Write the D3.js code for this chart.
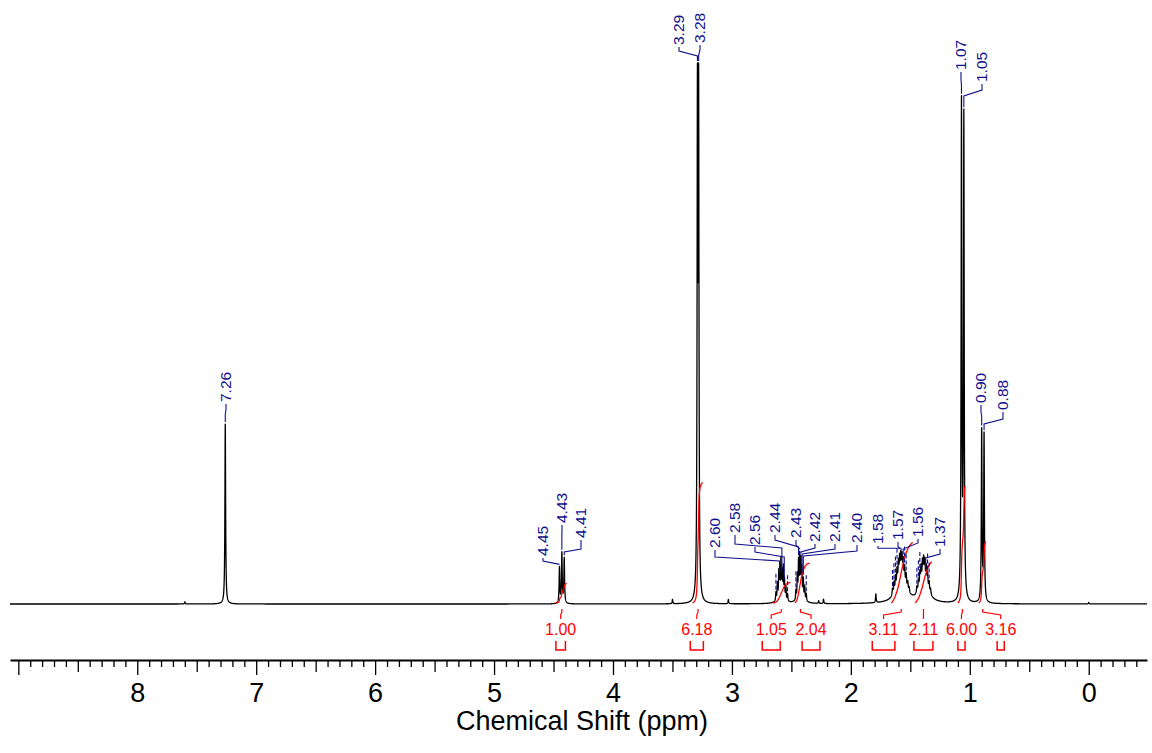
<!DOCTYPE html>
<html><head><meta charset="utf-8">
<script src="https://cdn.jsdelivr.net/npm/d3@7"></script>
<style>
body{margin:0;background:#fff}
svg{display:block}
text{font-family:Arial,"Liberation Sans",sans-serif}
</style>
</head><body>
<svg id="c" width="1152" height="753"></svg>
<script>
// ---- Peak list (ppm, relative intensity with 3.29 = 100, half width in ppm)
const peakPpm = [7.60, 7.26, 4.45, 4.43, 4.41, 3.50, 3.29, 3.28, 3.03,
  2.630, 2.618, 2.606, 2.598, 2.588, 2.578, 2.568, 2.558, 2.546, 2.532, 2.585,
  2.462, 2.450, 2.440, 2.430, 2.420, 2.412, 2.400, 2.388, 2.375, 2.420,
  2.27, 2.23, 1.79,
  1.575, 1.650, 1.638, 1.625, 1.612, 1.600, 1.590, 1.580, 1.570, 1.560, 1.548, 1.535, 1.522, 1.510,
  1.385, 1.445, 1.432, 1.420, 1.410, 1.398, 1.388, 1.378, 1.366, 1.355, 1.342, 1.330,
  1.07, 1.05, 0.90, 0.88, 0.00];
const peakAmp = [0.4, 33.2, 6.6, 9.2, 8.3, 0.8, 90, 90, 0.8,
  1.5, 3.0, 4.7, 3.8, 6.5, 4.2, 5.5, 3.4, 2.4, 1.3, 1.2,
  1.7, 4.3, 6.5, 7.2, 6.2, 4.7, 3.4, 2.4, 1.3, 1.2,
  0.5, 0.8, 1.6,
  4.0, 1.2, 2.0, 2.6, 3.2, 3.8, 4.0, 4.2, 4.0, 3.6, 3.0, 2.4, 1.6, 1.0,
  3.4, 1.2, 2.0, 2.8, 3.4, 3.8, 4.0, 3.8, 3.3, 2.6, 1.8, 1.0,
  91, 88.5, 31.5, 30.7, 0.3];
const peakHw = [0.003, 0.0035, 0.0035, 0.0035, 0.0035, 0.003, 0.0035, 0.0035, 0.003,
  0.003, 0.003, 0.003, 0.003, 0.003, 0.003, 0.003, 0.003, 0.003, 0.003, 0.03,
  0.003, 0.003, 0.003, 0.003, 0.003, 0.003, 0.003, 0.003, 0.003, 0.03,
  0.003, 0.003, 0.003,
  0.05, 0.004, 0.004, 0.004, 0.004, 0.004, 0.004, 0.004, 0.004, 0.004, 0.004, 0.004, 0.004, 0.004,
  0.045, 0.004, 0.004, 0.004, 0.004, 0.004, 0.004, 0.004, 0.004, 0.004, 0.004, 0.004,
  0.0035, 0.0035, 0.0035, 0.0035, 0.003];

// ---- Peak labels
const labelText = ["7.26","4.45","4.43","4.41","3.29","3.28","2.60","2.58","2.56","2.44","2.43","2.42","2.41","2.40","1.58","1.57","1.56","1.37","1.07","1.05","0.90","0.88"];
const labelPpm = labelText.map(Number);
// label layout (px): label x, text bottom, elbow y at label, elbow y at peak
const labelX  = [226, 543, 562, 581, 679, 700, 715, 735, 755, 775, 796, 815, 835, 857, 878, 898, 918, 940, 961, 982, 981, 1003];
const labelTB = [402, 556, 523, 538, 45, 43, 548, 533, 545, 533, 538, 542, 542, 543, 544, 540, 537, 547, 70, 82, 403, 410];
const labelE1 = [410, 561, 530, 549, 51, 50, 557, 544, 552, 540, 545, 548, 549, 551, 549, 547, 543, 554, 80, 90, 412, 419];
const labelE2 = [414, 565, 535, 552, 56, 55, 561, 548, 557, 547, 549, 552, 554, 556, 552, 551, 549, 558, 85, 96, 416, 424];
// unlabeled peak markers (dashed)
const markerPpm = [2.630, 2.532, 2.462, 2.375, 1.650, 1.638, 1.625, 1.612, 1.548, 1.535, 1.445, 1.432, 1.420, 1.355, 1.342];

// ---- Integrals
const integralValue = ["1.00","6.18","1.05","2.04","3.11","2.11","6.00","3.16"];
const bracketFrom = [4.48, 3.35, 2.745, 2.41, 1.82, 1.47, 1.10, 0.77];
const bracketTo   = [4.40, 3.24, 2.594, 2.26, 1.63, 1.31, 1.04, 0.71];
const curveFrom   = [4.48, 3.33, 2.66, 2.47, 1.66, 1.46, 1.10, 0.925];
const curveTo     = [4.39, 3.245, 2.51, 2.35, 1.48, 1.32, 1.04, 0.866];

// ---- Axis
const majorTicks = d3.range(0, 10);
const axisTitle = "Chemical Shift (ppm)";

const NAVY = "#10108c", RED = "#ff0000";
const svg = d3.select("#c");
const x = d3.scaleLinear().domain([9.07, -0.49]).range([10, 1147]);
const y = d3.scaleLinear().domain([0, 100]).range([604, 62]);

function intensity(p){
  let s = 0;
  for (let i = 0; i < peakPpm.length; i++){
    const d = (p - peakPpm[i]) / peakHw[i];
    s += peakAmp[i] / (1 + d*d);
  }
  return s;
}
const grid = d3.range(9070, -491, -0.8).map(v => v/1000).concat(peakPpm).sort((a,b)=>b-a);
const spec = grid.map(p => [p, intensity(p)]);

svg.append("path")
  .attr("d", d3.line().x(d=>x(d[0])).y(d=>y(d[1]))(spec))
  .attr("fill","none").attr("stroke","#000").attr("stroke-width",1.3).attr("stroke-linejoin","round");

// integrals
const K = 19.5, BASE = 603;
integralValue.forEach((v, i) => {
  const pts = d3.range(curveFrom[i], curveTo[i], -0.0005).concat([curveTo[i]]);
  const vals = pts.map(intensity);
  const tot = d3.sum(vals);
  let c = 0, mid = null;
  const line = pts.map((p, j) => { c += vals[j]; if (mid === null && c >= tot/2) mid = p; return [x(p), BASE - (+v)*K*c/tot]; });
  svg.append("path").attr("d", d3.line()(line)).attr("fill","none").attr("stroke",RED).attr("stroke-width",1.3);
  const lx = (x(bracketFrom[i]) + x(bracketTo[i]))/2;
  const cx = x(mid);
  svg.append("path").attr("d", `M${cx},609V612L${lx},615V619`).attr("fill","none").attr("stroke",RED).attr("stroke-width",1.2);
  svg.append("path").attr("d", `M${x(bracketFrom[i])},641V650H${x(bracketTo[i])}V641`)
    .attr("fill","none").attr("stroke",RED).attr("stroke-width",1.5);
  svg.append("text").attr("x", lx).attr("y", 635).attr("text-anchor","middle")
    .attr("font-size","16px").attr("fill",RED).text(v);
});

// peak labels
labelText.forEach((t, i) => {
  const px = x(labelPpm[i]);
  const tip = y(intensity(labelPpm[i])) - 2;
  const e2 = Math.min(labelE2[i], tip);
  const e1 = Math.min(labelE1[i], e2);
  svg.append("path").attr("d", `M${labelX[i]},${labelTB[i]+2}V${e1}L${px},${e2}V${tip}`)
    .attr("fill","none").attr("stroke",NAVY).attr("stroke-width",1.1);
  svg.append("text").attr("transform", `translate(${labelX[i]},${labelTB[i]}) rotate(-90)`)
    .attr("dy","0.35em").attr("font-size","15.5px").attr("fill",NAVY).text(t);
});
markerPpm.forEach(p => {
  const px = x(p), tip = y(intensity(p)) - 2;
  svg.append("line").attr("x1",px).attr("x2",px).attr("y1",tip-16).attr("y2",tip)
    .attr("stroke",NAVY).attr("stroke-width",1.1).attr("stroke-dasharray","4,2");
});

// axis
const axisY = 660;
const minor = d3.range(-4, 91).filter(v => v % 5 !== 0).map(v => v/10);
const half = d3.range(0, 9).map(v => v + 0.5);
svg.append("g").attr("transform",`translate(0,${axisY})`)
  .call(d3.axisBottom(x).tickValues(minor).tickSize(7).tickSizeOuter(0).tickFormat(""))
  .call(g => g.select(".domain").remove());
svg.append("g").attr("transform",`translate(0,${axisY})`)
  .call(d3.axisBottom(x).tickValues(half).tickSize(12).tickSizeOuter(0).tickFormat(""))
  .call(g => g.select(".domain").remove());
const ax = svg.append("g").attr("transform",`translate(0,${axisY})`)
  .call(d3.axisBottom(x).tickValues(majorTicks).tickSize(15).tickPadding(8).tickSizeOuter(0)
    .tickFormat(d => d === 9 ? "" : d3.format("d")(d)));
ax.select(".domain").attr("stroke-width",2);
svg.selectAll(".tick line").attr("stroke-width",1.3);
ax.selectAll("text").attr("font-size","27px").attr("fill","#000").attr("font-family",'Arial,"Liberation Sans",sans-serif');

svg.append("text").attr("x",582).attr("y",730).attr("text-anchor","middle")
  .attr("font-size","27px").attr("fill","#000").text(axisTitle);
</script>
</body></html>
